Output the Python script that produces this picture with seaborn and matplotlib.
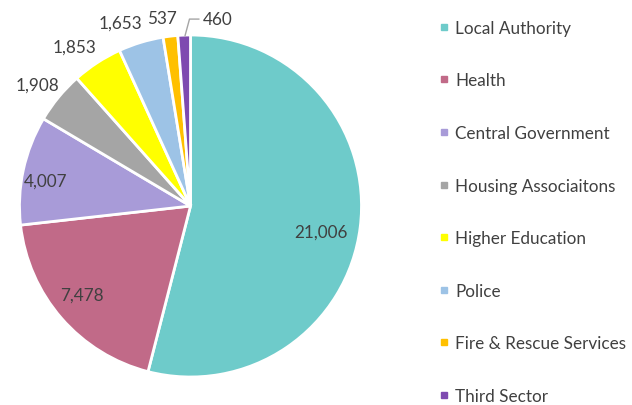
import numpy as np
import matplotlib
matplotlib.use("Agg")
import matplotlib.pyplot as plt
import seaborn as sns
from matplotlib.lines import Line2D

# data
sectors = ["Local Authority", "Health", "Central Government", "Housing Associaitons",
           "Higher Education", "Police", "Fire & Rescue Services", "Third Sector"]
counts = [21006, 7478, 4007, 1908, 1853, 1653, 537, 460]
colours = ["#6ECBCA", "#C16A88", "#A89BD8", "#A5A5A5",
           "#FFFF00", "#9DC3E6", "#FFC000", "#7E4AB0"]

sns.set_theme(style="white")
plt.rcParams['font.family'] = ['Lato', 'DejaVu Sans']
txt = "#404040"
pal = sns.color_palette(colours)

fig = plt.figure(figsize=(6.32, 4.06), dpi=100)
ax = fig.add_axes([19.5 / 632, 28 / 406, 342 / 632, 342 / 406])

wedges, _ = ax.pie(counts, colors=pal, startangle=90, counterclock=False,
                   radius=1.0, wedgeprops=dict(edgecolor="white", linewidth=2))
ax.set_xlim(-1, 1)
ax.set_ylim(-1, 1)
ax.set_aspect("equal")

# label distances (inside for big slices, outside for small ones)
dist = [0.78, 0.82, 0.86, 1.14, 1.15, 1.15, 1.11, None]
shift = [-4, -2, 2, 1, 3, 4, 2, 0]
for w, n, d, s in zip(wedges, counts, dist, shift):
    mid = np.deg2rad((w.theta1 + w.theta2) / 2 + s)
    if d is None:
        continue
    ax.text(d * np.cos(mid), d * np.sin(mid), f"{n:,}", ha="center", va="center",
            fontsize=12.3, color=txt)

# last slice with leader line
w = wedges[-1]
mid = np.deg2rad((w.theta1 + w.theta2) / 2)
ax.annotate(f"{counts[-1]:,}", xy=(0.98 * np.cos(mid), 0.98 * np.sin(mid)),
            xytext=(13, 14), textcoords="offset points", ha="left", va="center",
            fontsize=12.3, color=txt,
            arrowprops=dict(arrowstyle="-", color="#A5A5A5", lw=1,
                            shrinkA=0, shrinkB=2,
                            connectionstyle="angle,angleA=0,angleB=75,rad=0"))

handles = [Line2D([0], [0], marker="s", linestyle="", markersize=5,
                  markerfacecolor=c, markeredgecolor=c) for c in pal]
fig.legend(handles, sectors, loc="upper left", bbox_to_anchor=(433 / 632, 1 - 14 / 406),
           frameon=False, fontsize=12.3, labelcolor=txt, handlelength=0.5,
           handletextpad=0.4, labelspacing=2.14, borderaxespad=0)

fig.savefig("out.png", dpi=100)
